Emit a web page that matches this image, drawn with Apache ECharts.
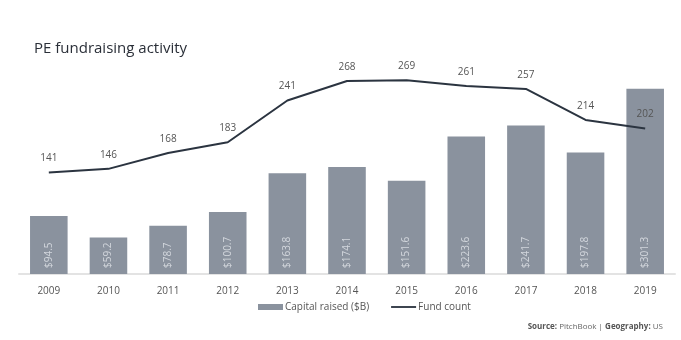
<!DOCTYPE html>
<html><head><meta charset="utf-8">
<script src="https://cdn.jsdelivr.net/npm/echarts@6/dist/echarts.min.js"></script>
<style>html,body{margin:0;padding:0;background:#fff}#c{width:681px;height:340px}</style>
</head><body><div id="c"></div>
<script>
const years = ['2009','2010','2011','2012','2013','2014','2015','2016','2017','2018','2019'];
const capitalRaised = [94.5, 59.2, 78.7, 100.7, 163.8, 174.1, 151.6, 223.6, 241.7, 197.8, 301.3];
const fundCount = [141, 146, 168, 183, 241, 268, 269, 261, 257, 214, 202];

const chart = echarts.init(document.getElementById('c'), null, {renderer:'canvas'});
const font = '"Open Sans", "Noto Sans", sans-serif';
chart.setOption({
  animation: false,
  textStyle: {fontFamily: font},
  title: {
    text: 'PE fundraising activity', left: 29, top: 36,
    textStyle: {fontFamily: font, fontSize: 15, fontWeight: 500, color: '#2a2f38'}
  },
  grid: {left: 19, right: 6, top: 54, bottom: 66},
  legend: {
    bottom: 23, left: 253, itemGap: 22,
    textStyle: {fontFamily: font, fontSize: 10, color: '#555', padding: [0, 0, 0, -3]},
    data: [
      {name: 'Capital raised ($B)', icon: 'rect', itemStyle: {color: '#8a929e'}},
      {name: 'Fund count', icon: 'path://M0,0 L30,0 L30,2.2 L0,2.2 Z', itemStyle: {color: '#2b3440'}}
    ],
    itemWidth: 25, itemHeight: 6
  },
  xAxis: {
    type: 'category', data: years,
    axisLine: {lineStyle: {color: '#e3e3e3', width: 2}},
    axisTick: {show: false},
    axisLabel: {fontFamily: font, fontSize: 10, color: '#555', margin: 12}
  },
  yAxis: [
    {type: 'value', min: 0, max: 358, show: false, splitLine: {show: false}},
    {type: 'value', min: 0, max: 305.5, show: false, splitLine: {show: false}}
  ],
  series: [
    {
      name: 'Capital raised ($B)', type: 'bar', data: capitalRaised, yAxisIndex: 0,
      barWidth: '63%',
      itemStyle: {color: '#8a929e'},
      label: {
        show: true, position: 'insideBottom', rotate: 90, align: 'left', verticalAlign: 'middle',
        distance: 6, fontFamily: font, fontSize: 10, color: '#d3d7dd',
        formatter: p => '$' + p.value.toFixed(1)
      }
    },
    {
      name: 'Fund count', type: 'line', data: fundCount, yAxisIndex: 1,
      symbol: 'circle', symbolSize: 0, showSymbol: true,
      lineStyle: {color: '#2b3440', width: 2},
      itemStyle: {color: '#2b3440'},
      label: {show: true, position: 'top', distance: 9, fontFamily: font, fontSize: 10, color: '#555'}
    }
  ],
  graphic: [{
    type: 'text', right: 18, top: 323,
    style: {
      text: '{b|Source:} PitchBook | {b|Geography:} US',
      font: '8px ' + font, fill: '#666',
      rich: {b: {fontWeight: 'bold', fontSize: 8, fontFamily: font, fill: '#555'}}
    }
  }]
});
</script></body></html>
